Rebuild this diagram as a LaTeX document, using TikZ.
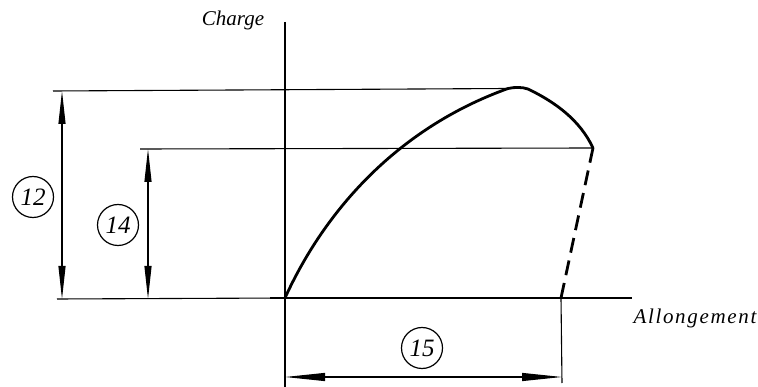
\documentclass[tikz,border=0pt]{standalone}
\usepackage{fontspec}
\setmainfont{Liberation Serif}
\newfontfamily\spacedfont[LetterSpace=8]{Liberation Serif}
\usetikzlibrary{arrows.meta}
\begin{document}
\begin{tikzpicture}[x=1pt,y=-1pt,
  thinline/.style={line width=1.1pt},
  axisline/.style={line width=1.6pt},
  curveline/.style={line width=2.8pt, line cap=round, line join=round},
  dimarrow/.style={line width=1.1pt, {Triangle[length=33pt,width=7pt]}-{Triangle[length=33pt,width=7pt]}},
  dimarrowh/.style={line width=1.1pt, {Triangle[length=40pt,width=8pt]}-{Triangle[length=40pt,width=8pt]}},
  callout/.style={circle, draw, line width=1.2pt, minimum size=41pt, inner sep=0pt, font=\itshape\fontsize{25}{25}\selectfont},
  axislabel/.style={font=\itshape\fontsize{21}{21}\selectfont, inner sep=0pt}
]
\useasboundingbox (0,0) rectangle (758,387);
% key points
\coordinate (O) at (285,298);
\coordinate (yt) at (285,22);
\coordinate (yb) at (285,387);
\coordinate (xl) at (270,298);
\coordinate (xr) at (632,298);
\coordinate (peakL) at (508,88.5);
\coordinate (peakR) at (528,89);
\coordinate (R) at (593,148);
\coordinate (E) at (561,298);
% axes
\draw[axisline] (yt) -- (yb);
\draw[axisline] (xl) -- (xr);
% extension lines
\coordinate (t12) at (53,91);
\coordinate (l14) at (140,149);
\coordinate (b12) at (57,299);
\draw[thinline] (t12) -- (peakL);
\draw[thinline] (l14) -- (R);
\draw[thinline] (b12) -- (O);
\coordinate (e15) at (562,383);
\draw[thinline] (E) -- (e15);
% curve
\draw[curveline] (O) .. controls (325,210) and (398,128) .. (peakL)
  .. controls (515,87) and (522,87) .. (peakR)
  .. controls (555,102) and (580,120) .. (R);
\draw[curveline, line cap=butt, dash pattern=on 15pt off 8pt] (R) -- (E);
% dimensions
\coordinate (d12a) at (62,91);
\coordinate (d12b) at (62,299);
\coordinate (d14a) at (148,149);
\coordinate (d14b) at (148,299);
\coordinate (d15a) at (285,377);
\coordinate (d15b) at (562,377);
\draw[dimarrow] (d12a) -- (d12b);
\draw[dimarrow] (d14a) -- (d14b);
\draw[dimarrowh] (d15a) -- (d15b);
% callouts
\node[callout] (c12) at (33,197) {12};
\node[callout] (c14) at (118,225) {14};
\node[callout] (c15) at (422,348) {15};
% labels
\node[axislabel] (charge) at (233,20) {Charge};
\node[axislabel, font=\spacedfont\itshape\fontsize{21}{21}\selectfont] (allong) at (695,318) {Allongement};
\end{tikzpicture}
\end{document}
